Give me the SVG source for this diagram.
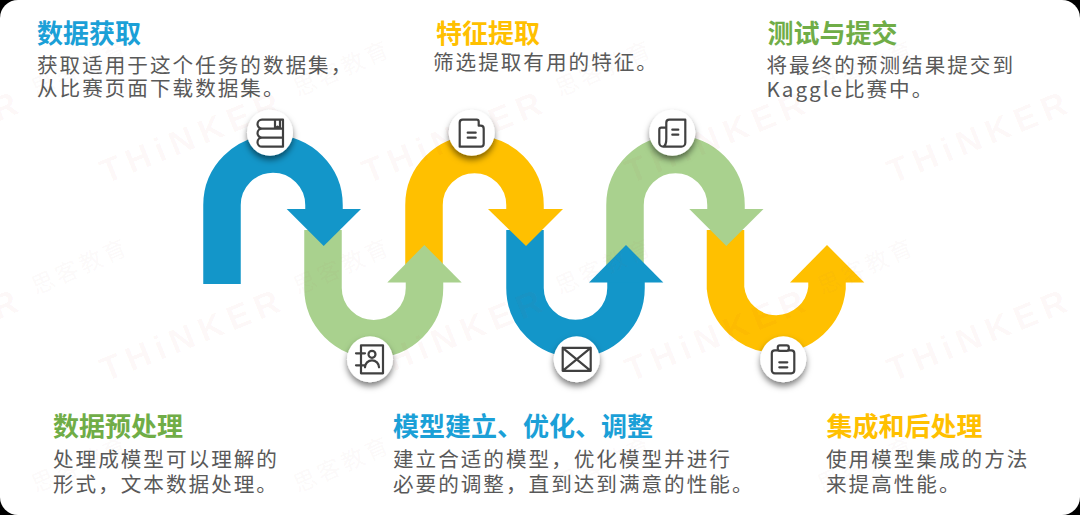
<svg xmlns="http://www.w3.org/2000/svg" width="1080" height="515" viewBox="0 0 1080 515">
<style>
.t{font-family:"Noto Sans CJK SC","Noto Sans",sans-serif;font-weight:700;font-size:26px}
.b{font-family:"Noto Sans CJK SC","Noto Sans",sans-serif;font-size:20.6px;letter-spacing:2px;fill:#595959}
.blue{fill:#1ba0d7}.green{fill:#70ad47}.yellow{fill:#ffc000}
.s{fill:none;stroke-width:37.5}
.i{fill:none;stroke:#404040;stroke-width:2.200;stroke-linecap:round;stroke-linejoin:round}
.wm{font-family:"Liberation Sans",sans-serif;font-weight:700;font-size:34px;letter-spacing:6.500px;fill:#c83c3c;fill-opacity:.04}
.wc{font-family:"Noto Sans CJK SC",sans-serif;font-size:23px;letter-spacing:3px;fill:#b06060;fill-opacity:.05}
</style>
<defs>
<filter id="sh" x="-40%" y="-40%" width="180%" height="180%"><feDropShadow dx="0" dy="4" stdDeviation="3" flood-color="#000" flood-opacity=".5"/></filter>
<g id="mark"><text class="wm" transform="translate(106 184) rotate(-22)">THiNKER</text></g>
<g id="cn"><text class="wc" transform="translate(36 97) rotate(-24)">思客教育</text></g>
</defs>
<rect width="1080" height="515" fill="#000"/>
<rect width="1080" height="515" rx="18" fill="#fff"/>
<g id="connectors">
<g id="seg6"><path class="s" stroke="#ffc000" d="M725.500 230V288A51 51 0 0 0 827 288V275"/><path fill="#ffc000" d="M790 282.500H864.300L827 245Z"/></g>
<g id="seg5"><path class="s" stroke="#a9d18e" d="M625 275V205A50.500 50.500 0 0 1 726 205V215"/><path fill="#a9d18e" d="M689.300 209H763.500L726.300 246Z"/></g>
<g id="seg4"><path class="s" stroke="#1396c9" d="M525 230V288A50.500 50.500 0 0 0 626 288V275"/><path fill="#1396c9" d="M589 282.500H663.300L626 245Z"/></g>
<g id="seg3"><path class="s" stroke="#ffc000" d="M424 275V205A50.500 50.500 0 0 1 525 205V215"/><path fill="#ffc000" d="M488 209H563L526 246Z"/></g>
<g id="seg2"><path class="s" stroke="#a9d18e" d="M323 230V288A50.750 50.750 0 0 0 424.500 288V275"/><path fill="#a9d18e" d="M387.300 282.500H461.700L424.300 245Z"/></g>
<g id="seg1"><path class="s" stroke="#1396c9" d="M222 284V205A51 51 0 0 1 324 205V215"/><path fill="#1396c9" d="M286.700 209H361L323.700 246Z"/></g>
</g>
<g id="watermark">
<use href="#mark" x="0" y="0"/><use href="#mark" x="262" y="0"/><use href="#mark" x="525" y="0"/><use href="#mark" x="787" y="0"/>
<use href="#mark" x="-262" y="0"/><use href="#mark" x="-262" y="198"/>
<use href="#mark" x="0" y="198"/><use href="#mark" x="262" y="198"/><use href="#mark" x="525" y="198"/><use href="#mark" x="787" y="198"/>
<use href="#cn" x="0" y="0"/><use href="#cn" x="262" y="0"/><use href="#cn" x="524" y="0"/><use href="#cn" x="786" y="0"/>
<use href="#cn" x="0" y="198"/><use href="#cn" x="262" y="198"/><use href="#cn" x="524" y="198"/><use href="#cn" x="786" y="198"/>
<use href="#cn" x="0" y="396"/><use href="#cn" x="262" y="396"/><use href="#cn" x="524" y="396"/><use href="#cn" x="786" y="396"/>
</g>
<g id="node-icon1" transform="translate(270 132.700)"><circle r="23" fill="#fff" filter="url(#sh)"/><path class="i" d="M13 -13H-8a4.500 4.500 0 0 0 0 9H13M-8 -4a4.500 4.500 0 0 0 0 9H13M-8 5a4.500 4.500 0 0 0 0 9H13M13 -13V14M5 -13V-4L7.500 -6L10 -4V-13"/></g>
<g id="node-icon2" transform="translate(471.700 132.700)"><circle r="23" fill="#fff" filter="url(#sh)"/><path class="i" d="M-12 14V-10a3 3 0 0 1 3 -3H5a2 2 0 0 1 2 2V-7H9a3 3 0 0 1 3 3V11a3 3 0 0 1 -3 3ZM-4 0H4M-4 5H4"/></g>
<g id="node-icon3" transform="translate(672.300 132.700)"><circle r="23" fill="#fff" filter="url(#sh)"/><path class="i" d="M-6 6V-10a3 3 0 0 1 3 -3H13V10a4 4 0 0 1 -4 4H-9a4 4 0 0 1 -4 -4V-3a2 2 0 0 1 2 -2H-6M-6 6a4 8 0 0 1 -3 8M0 -3H6M0 2H6"/></g>
<g id="node-icon4" transform="translate(370 359.300)"><circle r="23" fill="#fff" filter="url(#sh)"/><path class="i" d="M-9 -14H13V14H-9ZM-14 -6H-5M-14 6H-5M-5 8a7 7 0 0 1 14 0"/><circle class="i" cx="2" cy="-5" r="3.500"/></g>
<g id="node-icon5" transform="translate(576.700 359.300)"><circle r="23" fill="#fff" filter="url(#sh)"/><path class="i" d="M-14 -11.500H14V11.500H-14ZM-14 -11.500L14 11.500M14 -11.500L-14 11.500"/></g>
<g id="node-icon6" transform="translate(783.300 359.300)"><circle r="23" fill="#fff" filter="url(#sh)"/><path class="i" d="M-5 -9H-8.500a3 3 0 0 0 -3 3V11a3 3 0 0 0 3 3H8a3 3 0 0 0 3 -3V-6a3 3 0 0 0 -3 -3H5M-4 3H4M-4 8H4"/><rect class="i" x="-5.500" y="-14" width="11" height="5.500" rx="2"/></g>
<g id="node-step1"><text class="t blue" x="37" y="42.500">数据获取</text><text class="b" x="37" y="72.500">获取适用于这个任务的数据集，</text><text class="b" x="37" y="96">从比赛页面下载数据集。</text></g>
<g id="node-step3"><text class="t yellow" x="436" y="42.500">特征提取</text><text class="b" x="433" y="69.500">筛选提取有用的特征。</text></g>
<g id="node-step5"><text class="t green" x="767.500" y="42.500">测试与提交</text><text class="b" x="766.500" y="72.500">将最终的预测结果提交到</text><text class="b" x="766.500" y="96.500">Kaggle比赛中。</text></g>
<g id="node-step2"><text class="t green" x="53" y="436">数据预处理</text><text class="b" x="53" y="466.500">处理成模型可以理解的</text><text class="b" x="53" y="491.500">形式，文本数据处理。</text></g>
<g id="node-step4"><text class="t blue" x="393" y="436">模型建立、优化、调整</text><text class="b" x="393" y="466.500">建立合适的模型，优化模型并进行</text><text class="b" x="393" y="491.500">必要的调整，直到达到满意的性能。</text></g>
<g id="node-step6"><text class="t yellow" x="826.500" y="436">集成和后处理</text><text class="b" x="826" y="466.500">使用模型集成的方法</text><text class="b" x="826" y="491.500">来提高性能。</text></g>
</svg>
